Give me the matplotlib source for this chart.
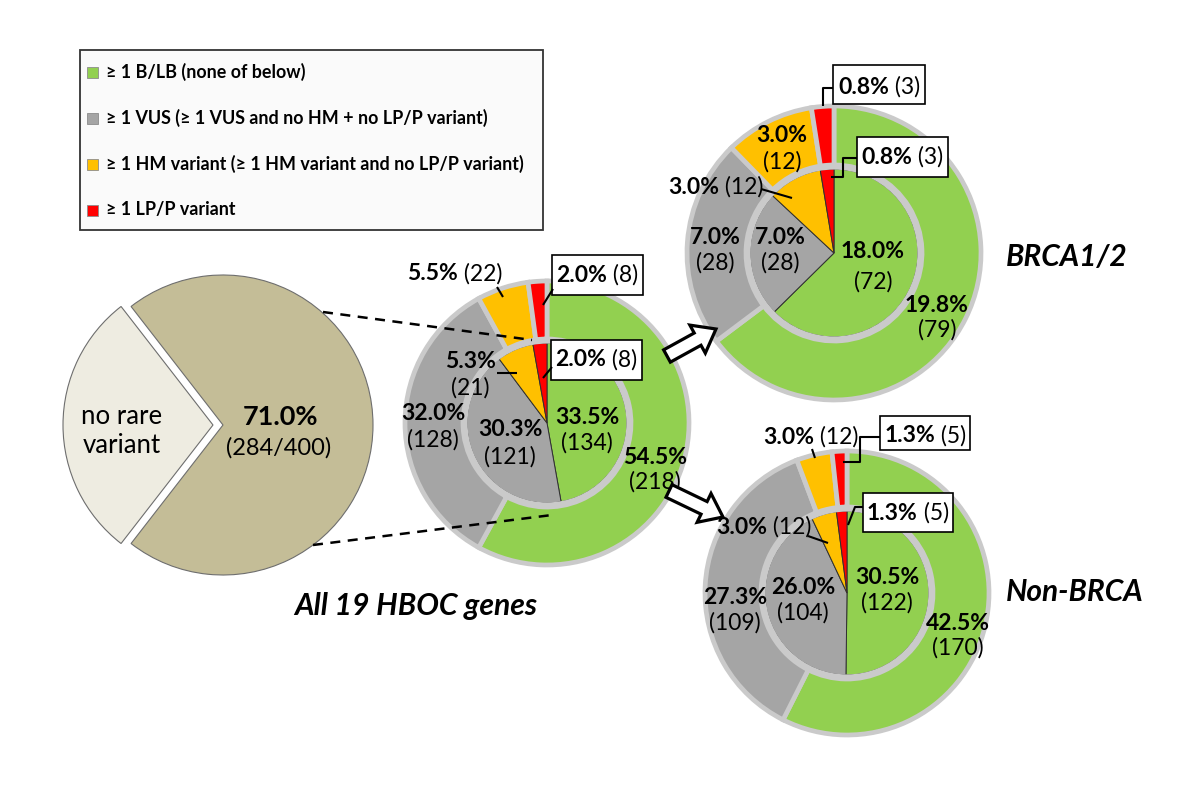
import matplotlib
matplotlib.use("Agg")
import matplotlib.pyplot as plt
import matplotlib.patches as mpatches

plt.rcParams['font.family'] = ['Lato', 'DejaVu Sans']

# ---------------- data ----------------
categories = ["≥ 1 B/LB (none of below)",
              "≥ 1 VUS (≥ 1 VUS and no HM + no LP/P variant)",
              "≥ 1 HM variant (≥ 1 HM variant and no LP/P variant)",
              "≥ 1 LP/P variant"]
colors = ["#92D050", "#A5A5A5", "#FFC000", "#FF0000"]

overall_labels = ["no rare\nvariant", "rare variant"]
overall_counts = [116, 284]
overall_total = 400
overall_pct = 71.0

all_outer_pct = [54.5, 32.0, 5.5, 2.0]
all_outer_n = [218, 128, 22, 8]
all_inner_pct = [33.5, 30.3, 5.3, 2.0]
all_inner_n = [134, 121, 21, 8]

brca_outer_pct = [19.8, 7.0, 3.0, 0.8]
brca_outer_n = [79, 28, 12, 3]
brca_inner_pct = [18.0, 7.0, 3.0, 0.8]
brca_inner_n = [72, 28, 12, 3]

non_outer_pct = [42.5, 27.3, 3.0, 1.3]
non_outer_n = [170, 109, 12, 5]
non_inner_pct = [30.5, 26.0, 3.0, 1.3]
non_inner_n = [122, 104, 12, 5]

titles = ["All 19 HBOC genes", "BRCA1/2", "Non-BRCA"]

# ---------------- figure ----------------
W, H = 1200, 800
fig = plt.figure(figsize=(12, 8), dpi=100)
ax = fig.add_axes([0, 0, 1, 1])
RING = "#CACACA"


def Y(y):
    return H - y


def donut(cx, cy, r_out, r_in, outer_vals, inner_vals):
    ax.pie(outer_vals, radius=r_out, center=(cx, Y(cy)), startangle=90,
           counterclock=False, colors=colors,
           wedgeprops=dict(width=r_out - r_in - 4, edgecolor=RING, linewidth=3.4))
    ax.pie(inner_vals, radius=r_in, center=(cx, Y(cy)), startangle=90,
           counterclock=False, colors=colors,
           wedgeprops=dict(edgecolor="#303030", linewidth=0.7))
    ax.add_patch(mpatches.Circle((cx, Y(cy)), r_in + 1.5, fill=False,
                                 edgecolor=RING, linewidth=3.0, zorder=3))


# overall pie (explode is in data units = pixels here)
ax.pie(overall_counts, radius=150, center=(223, Y(425)), startangle=127.8,
       counterclock=True, colors=["#EEECE1", "#C4BD97"], explode=[10, 0],
       wedgeprops=dict(edgecolor="#6E6E6E", linewidth=0.8))

donut(547, 423, 142, 80, all_outer_n, all_inner_n)
donut(834, 253, 147, 84, brca_outer_n, brca_inner_n)
donut(847, 593, 142, 82, non_outer_n, non_inner_n)

ax.set_xlim(0, W)
ax.set_ylim(0, H)
ax.set_aspect("auto")
ax.axis("off")

renderer = fig.canvas.get_renderer()
FS = 16.5


def width_of(t):
    return t.get_window_extent(renderer=renderer).width


def inline(x, y, bold, normal, fs=FS, z=6):
    t1 = ax.text(0, Y(y), bold, fontsize=fs, fontweight="bold", va="center", ha="left", zorder=z)
    t2 = ax.text(0, Y(y), " " + normal, fontsize=fs, va="center", ha="left", zorder=z)
    w1, w2 = width_of(t1), width_of(t2)
    x0 = x - (w1 + w2) / 2
    t1.set_x(x0)
    t2.set_x(x0 + w1)


def two_line(x, y1, y2, bold, normal, fs=FS):
    ax.text(x, Y(y1), bold, fontsize=fs, fontweight="bold", ha="center", va="center", zorder=6)
    ax.text(x, Y(y2), normal, fontsize=fs, ha="center", va="center", zorder=6)


def box(x0, y0, x1, y1):
    ax.add_patch(mpatches.Rectangle((x0, Y(y1)), x1 - x0, y1 - y0, facecolor="white",
                                    edgecolor="black", linewidth=1.2, zorder=5))


def leader(pts):
    ax.plot([p[0] for p in pts], [Y(p[1]) for p in pts], color="black", lw=1.5,
            zorder=5, solid_capstyle="butt")


def pct(v):
    return f"{v:.1f}%"


def cnt(n):
    return f"({n})"


# ---- middle donut labels ----
inline(455, 274, pct(all_outer_pct[2]), cnt(all_outer_n[2]))
leader([(497, 287), (503, 297)])
box(552, 255, 643, 295)
inline(597, 275, pct(all_outer_pct[3]), cnt(all_outer_n[3]))
leader([(553, 289), (543, 305)])
box(551, 340, 642, 380)
inline(596, 360, pct(all_inner_pct[3]), cnt(all_inner_n[3]))
leader([(552, 367), (543, 378)])
two_line(470, 362, 388, pct(all_inner_pct[2]), cnt(all_inner_n[2]))
leader([(497, 373), (517, 373)])
two_line(433, 413, 440, pct(all_outer_pct[1]), cnt(all_outer_n[1]))
two_line(510, 430, 457, pct(all_inner_pct[1]), cnt(all_inner_n[1]))
two_line(587, 417, 443, pct(all_inner_pct[0]), cnt(all_inner_n[0]))
two_line(655, 457, 482, pct(all_outer_pct[0]), cnt(all_outer_n[0]))

# ---- BRCA donut labels ----
box(833, 65, 925, 104)
inline(879, 87, pct(brca_outer_pct[3]), cnt(brca_outer_n[3]))
leader([(833, 88), (823, 88), (823, 106)])
box(857, 137, 948, 177)
inline(902, 157, pct(brca_inner_pct[3]), cnt(brca_inner_n[3]))
leader([(857, 158), (843, 158), (843, 177), (831, 177)])
two_line(782, 135, 162, pct(brca_outer_pct[2]), cnt(brca_outer_n[2]))
inline(716, 187, pct(brca_inner_pct[2]), cnt(brca_inner_n[2]))
leader([(761, 189), (792, 198)])
two_line(715, 238, 263, pct(brca_outer_pct[1]), cnt(brca_outer_n[1]))
two_line(780, 238, 263, pct(brca_inner_pct[1]), cnt(brca_inner_n[1]))
two_line(873, 252, 282, pct(brca_inner_pct[0]), cnt(brca_inner_n[0]))
two_line(937, 305, 330, pct(brca_outer_pct[0]), cnt(brca_outer_n[0]))

# ---- Non-BRCA donut labels ----
inline(811, 437, pct(non_outer_pct[2]), cnt(non_outer_n[2]))
leader([(812, 449), (815, 458)])
box(880, 416, 970, 450)
inline(925, 436, pct(non_outer_pct[3]), cnt(non_outer_n[3]))
leader([(880, 437), (860, 437), (860, 462), (843, 462)])
box(863, 493, 953, 532)
inline(908, 513, pct(non_inner_pct[3]), cnt(non_inner_n[3]))
leader([(863, 507), (855, 507), (848, 525)])
inline(764, 527, pct(non_inner_pct[2]), cnt(non_inner_n[2]))
leader([(808, 536), (828, 543)])
two_line(735, 597, 623, pct(non_outer_pct[1]), cnt(non_outer_n[1]))
two_line(803, 587, 613, pct(non_inner_pct[1]), cnt(non_inner_n[1]))
two_line(887, 578, 603, pct(non_inner_pct[0]), cnt(non_inner_n[0]))
two_line(958, 623, 648, pct(non_outer_pct[0]), cnt(non_outer_n[0]))

# ---- overall pie labels ----
ax.text(281, Y(417), f"{overall_pct:.1f}%", fontsize=19.5, fontweight="bold",
        ha="center", va="center", zorder=6)
ax.text(279, Y(448), f"({overall_counts[1]}/{overall_total})", fontsize=17,
        ha="center", va="center", zorder=6)
ax.text(122, Y(431), overall_labels[0], fontsize=18.5, ha="center", va="center",
        linespacing=1.2, zorder=6)

# ---- dashed connectors ----
ax.plot([323, 532], [Y(312), Y(340)], color="black", lw=1.8, ls=(0, (4, 3)), zorder=4)
ax.plot([313, 552], [Y(545), Y(515)], color="black", lw=1.8, ls=(0, (4, 3)), zorder=4)

# ---- block arrows ----
ax.add_patch(mpatches.FancyArrow(667, Y(356), 49, 27, width=14, head_width=32,
                                 head_length=21, length_includes_head=True,
                                 facecolor="white", edgecolor="black", linewidth=2.3, zorder=6))
ax.add_patch(mpatches.FancyArrow(669, Y(491), 54, -26, width=14, head_width=32,
                                 head_length=21, length_includes_head=True,
                                 facecolor="white", edgecolor="black", linewidth=2.3, zorder=6))

# ---- titles ----
ax.text(416, Y(606), titles[0], fontsize=21.7, fontweight="bold", fontstyle="italic",
        ha="center", va="center")
ax.text(1006, Y(257), titles[1], fontsize=21.5, fontweight="bold", fontstyle="italic",
        ha="left", va="center")
ax.text(1006, Y(592), titles[2], fontsize=21.5, fontweight="bold", fontstyle="italic",
        ha="left", va="center")

# ---- legend ----
ax.add_patch(mpatches.Rectangle((80, Y(230)), 463, 180, facecolor="#FAFAFA",
                                edgecolor="#333333", linewidth=1.3, zorder=5))
rows = [72, 118, 164, 210]
for cat, col, ry in zip(categories, colors, rows):
    ax.add_patch(mpatches.Rectangle((87, Y(ry) - 5.5), 11, 11, facecolor=col,
                                    edgecolor="#8C8C8C", linewidth=0.6, zorder=6))
    ax.text(106, Y(ry), cat, fontsize=12.9, fontweight="bold", ha="left",
            va="center", zorder=6)

fig.savefig("out.png", dpi=100)
